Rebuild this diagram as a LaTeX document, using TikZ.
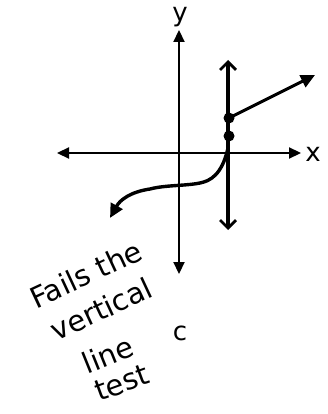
\documentclass[tikz,border=0pt]{standalone}
\usepackage{fontspec}
\setmainfont{DejaVu Sans}
\usetikzlibrary{arrows.meta}
\tikzset{
  axis/.style={line width=2.2pt,{Triangle[length=12pt,width=11pt]}-{Triangle[length=12pt,width=11pt]}},
  graphline/.style={line width=3.4pt,line cap=round},
  openline/.style={line width=3.2pt,{Straight Barb[length=8pt,width=16pt,line width=2.8pt]}-{Straight Barb[length=8pt,width=16pt,line width=2.8pt]}},
  dotmark/.style={circle,fill=black,inner sep=0pt,minimum size=11pt},
  hand/.style={font=\fontsize{29}{31}\selectfont,inner sep=0pt},
  lab/.style={font=\fontsize{26}{26}\selectfont,inner sep=0pt}
}
\begin{document}
\begin{tikzpicture}[x=1pt,y=-1pt]
\useasboundingbox (0,0) rectangle (328,414);
% axes
\coordinate (yt) at (179,30);
\coordinate (yb) at (179,274);
\coordinate (xl) at (57,153);
\coordinate (xr) at (301,153);
\draw[axis] (yb) -- (yt);
\draw[axis] (xl) -- (xr);
\node[lab] (ylab) at (180,17) {y};
\node[lab] (xlab) at (313,154) {x};
% vertical line
\coordinate (vt) at (228,60);
\coordinate (vb) at (228,230);
\draw[openline] (vb) -- (vt);
% dots
\node[dotmark] (d1) at (229,118) {};
\node[dotmark] (d2) at (229,136) {};
% ray
\coordinate (rend) at (315,75);
\draw[line width=3pt,-{Triangle[length=14pt,width=13pt]}] (d1.center) -- (rend);
% curve
\coordinate (c0) at (228,148);
\coordinate (c1) at (200,183);
\coordinate (c2) at (150,189);
\coordinate (cend) at (110,218);
\draw[graphline,-{Triangle[length=14pt,width=13pt]}] (c0) .. controls (222,175) and (210,181) .. (c1)
  .. controls (185,186) and (165,185) .. (c2)
  .. controls (130,192) and (120,200) .. (cend);
% text
\node[hand,rotate=25] (t1) at (86,274) {Fails the};
\node[hand,rotate=25] (t2) at (101,309) {vertical};
\node[hand,rotate=22] (t3) at (108,355) {line};
\node[hand,rotate=20] (t4) at (122,383) {test};
\node[lab] (t5) at (180,333) {c};
\end{tikzpicture}
\end{document}
